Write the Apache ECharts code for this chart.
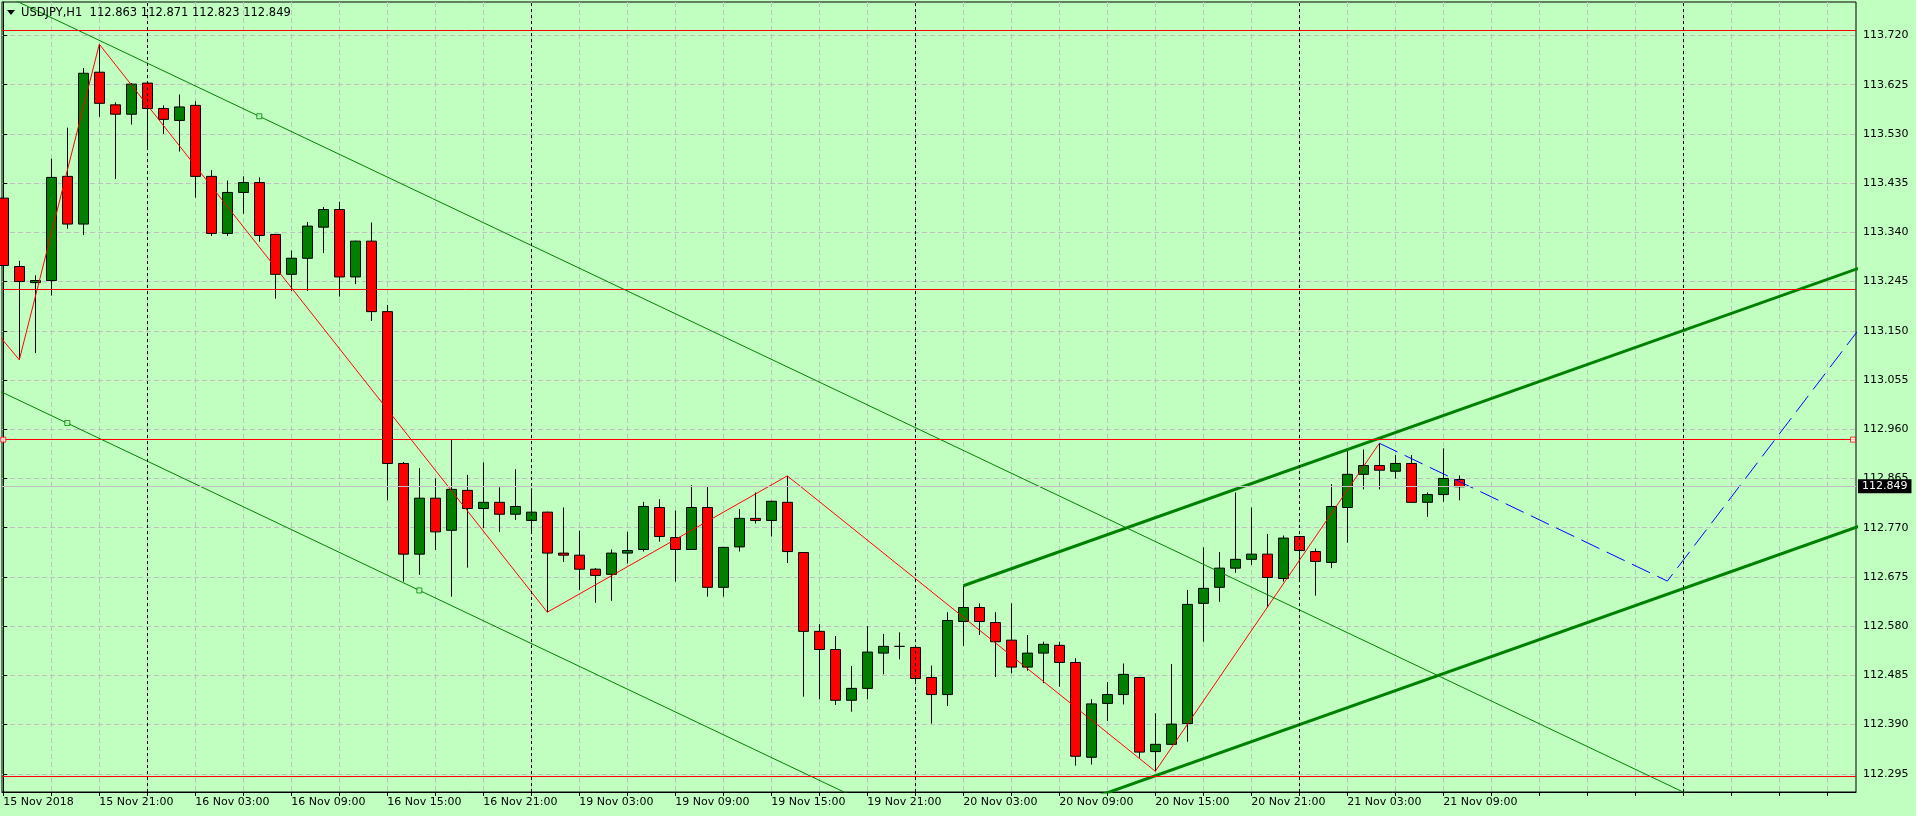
<!DOCTYPE html>
<html>
<head>
<meta charset="utf-8">
<title>USDJPY,H1</title>
<script src="https://cdn.jsdelivr.net/npm/echarts@6/dist/echarts.min.js"></script>
<style>
  html, body { margin: 0; padding: 0; background: #C1FFC1; }
  #chart { width: 1916px; height: 816px; }
</style>
</head>
<body>
<div id="chart"></div>
<script>
// USDJPY H1, bars 15 Nov 15:00 .. 21 Nov 10:00 (index = bar number)
const symbol = 'USDJPY,H1';
const open = [
  113.406, 113.274, 113.243, 113.247, 113.448, 113.356, 113.649, 113.586, 113.568, 113.628,
  113.579, 113.556, 113.585, 113.448, 113.338, 113.417, 113.436, 113.336, 113.259, 113.290,
  113.350, 113.384, 113.254, 113.323, 113.187, 112.894, 112.719, 112.827, 112.765, 112.842,
  112.807, 112.819, 112.796, 112.784, 112.800, 112.721, 112.717, 112.690, 112.680, 112.721,
  112.728, 112.809, 112.751, 112.728, 112.809, 112.655, 112.733, 112.788, 112.784, 112.819,
  112.722, 112.570, 112.535, 112.437, 112.460, 112.528, 112.541, 112.539, 112.481, 112.448,
  112.589, 112.616, 112.587, 112.553, 112.501, 112.528, 112.543, 112.510, 112.327, 112.431,
  112.448, 112.481, 112.338, 112.352, 112.392, 112.624, 112.655, 112.692, 112.709, 112.719,
  112.672, 112.753, 112.724, 112.703, 112.809, 112.873, 112.890, 112.879, 112.894, 112.819,
  112.834, 112.863
];
const high = [
  113.435, 113.285, 113.257, 113.482, 113.542, 113.657, 113.703, 113.591, 113.628, 113.630,
  113.585, 113.606, 113.593, 113.460, 113.440, 113.448, 113.446, 113.337, 113.305, 113.360,
  113.389, 113.399, 113.324, 113.359, 113.200, 112.897, 112.885, 112.865, 112.941, 112.872,
  112.896, 112.848, 112.883, 112.846, 112.801, 112.809, 112.764, 112.692, 112.728, 112.762,
  112.820, 112.825, 112.803, 112.852, 112.849, 112.733, 112.806, 112.838, 112.822, 112.870,
  112.723, 112.584, 112.561, 112.503, 112.580, 112.565, 112.568, 112.540, 112.504, 112.607,
  112.658, 112.624, 112.607, 112.624, 112.563, 112.550, 112.550, 112.518, 112.439, 112.472,
  112.508, 112.482, 112.412, 112.507, 112.650, 112.732, 112.723, 112.838, 112.809, 112.758,
  112.755, 112.754, 112.730, 112.854, 112.919, 112.921, 112.933, 112.910, 112.910, 112.838,
  112.923, 112.871
];
const low = [
  113.248, 113.094, 113.107, 113.218, 113.347, 113.335, 113.563, 113.443, 113.548, 113.501,
  113.530, 113.496, 113.407, 113.333, 113.333, 113.376, 113.322, 113.212, 113.227, 113.227,
  113.300, 113.216, 113.240, 113.169, 112.823, 112.666, 112.679, 112.727, 112.637, 112.693,
  112.769, 112.762, 112.785, 112.759, 112.607, 112.704, 112.650, 112.625, 112.629, 112.701,
  112.724, 112.743, 112.666, 112.727, 112.637, 112.637, 112.724, 112.778, 112.753, 112.702,
  112.444, 112.439, 112.428, 112.415, 112.439, 112.487, 112.516, 112.471, 112.392, 112.426,
  112.542, 112.563, 112.482, 112.489, 112.494, 112.470, 112.463, 112.311, 112.313, 112.397,
  112.429, 112.326, 112.300, 112.351, 112.357, 112.550, 112.627, 112.683, 112.698, 112.616,
  112.666, 112.668, 112.639, 112.692, 112.741, 112.844, 112.844, 112.865, 112.818, 112.791,
  112.820, 112.823
];
const close = [
  113.276, 113.245, 113.247, 113.446, 113.356, 113.647, 113.589, 113.568, 113.626, 113.579,
  113.558, 113.582, 113.448, 113.338, 113.417, 113.436, 113.334, 113.259, 113.290, 113.352,
  113.384, 113.254, 113.323, 113.187, 112.894, 112.719, 112.827, 112.762, 112.844, 112.807,
  112.819, 112.796, 112.811, 112.800, 112.721, 112.717, 112.690, 112.678, 112.721, 112.726,
  112.811, 112.753, 112.728, 112.809, 112.655, 112.732, 112.788, 112.784, 112.821, 112.724,
  112.570, 112.535, 112.437, 112.460, 112.530, 112.541, 112.541, 112.479, 112.448, 112.591,
  112.616, 112.589, 112.550, 112.501, 112.528, 112.545, 112.510, 112.329, 112.430, 112.448,
  112.487, 112.337, 112.352, 112.391, 112.622, 112.653, 112.692, 112.709, 112.719, 112.674,
  112.750, 112.726, 112.705, 112.811, 112.873, 112.890, 112.881, 112.894, 112.819, 112.834,
  112.865, 112.849
];

// time axis: a label every 6 bars, a grid line every 3 bars
const timeLabels = [
  '15 Nov 2018', '15 Nov 21:00', '16 Nov 03:00', '16 Nov 09:00', '16 Nov 15:00', '16 Nov 21:00',
  '19 Nov 03:00', '19 Nov 09:00', '19 Nov 15:00', '19 Nov 21:00', '20 Nov 03:00', '20 Nov 09:00',
  '20 Nov 15:00', '20 Nov 21:00', '21 Nov 03:00', '21 Nov 09:00'
];
const labelBars = [0, 6, 12, 18, 24, 30, 36, 42, 48, 54, 60, 66, 72, 78, 84, 90];
const gridBars = [0, 3, 6, 9, 12, 15, 18, 21, 24, 27, 30, 33, 36, 39, 42, 45, 48, 51, 54, 57,
  60, 63, 66, 69, 72, 75, 78, 81, 84, 87, 90, 93, 96, 99, 102, 105, 108, 111, 114];
const daySeparators = [9, 33, 57, 81, 105];

const priceTicks = [112.295, 112.390, 112.485, 112.580, 112.675, 112.770, 112.865, 112.960,
  113.055, 113.150, 113.245, 113.340, 113.435, 113.530, 113.625, 113.720];

// drawn objects
const levels = [113.727, 113.226, 112.940, 112.291];
const bid = 112.849;
const zigzag = [[-1, 113.168], [1, 113.094], [6, 113.703], [34, 112.607], [49, 112.870], [72, 112.300], [86, 112.933]];
const projection = [[86, 112.933], [104, 112.667], [116, 113.154]];
const downChannelTop = [[-1, 113.813], [120, 112.040]];
const downChannelBottom = [[-1, 113.045], [70, 112.004]];
const upChannelTop = [[60, 112.658], [120, 113.315]];
const upChannelBottom = [[60, 112.160], [120, 112.817]];
const channelPoints = [[16, 113.564], [4, 112.972], [26, 112.649]];
const levelPoints = [[0, 112.940], [115.6, 112.940]];

const bg = '#C1FFC1';
const font = 'DejaVu Sans';

const candles = open.map((o, i) => [i, o, close[i], low[i], high[i]]);
const last = open.length - 1;

var chartDom = document.getElementById('chart');
var chart = echarts.init(chartDom, null, { renderer: 'canvas' });

function trendLine(data, color, width, type) {
    return {
        type: 'line',
        data: data,
        showSymbol: false,
        symbol: 'none',
        clip: true,
        silent: true,
        z: 4,
        lineStyle: { color: color, width: width, type: type || 'solid' }
    };
}

var option = {
    backgroundColor: bg,
    animation: false,
    title: {
        text: symbol + '  ' + [open[last], high[last], low[last], close[last]].map(v => v.toFixed(3)).join(' '),
        left: 21,
        top: 7,
        padding: 0,
        textStyle: {
            fontFamily: font,
            fontSize: 11.5,
            fontWeight: 'normal',
            color: '#000'
        }
    },
    // small menu triangle before the symbol name
    graphic: [{
        type: 'polygon',
        silent: true,
        shape: { points: [[7, 10], [15, 10], [11, 15]] },
        style: { fill: '#000' }
    }],
    grid: {
        left: 2,
        top: 2,
        right: 60,
        bottom: 24,
        show: true,
        borderColor: '#000',
        borderWidth: 1,
        backgroundColor: 'transparent'
    },
    xAxis: {
        type: 'value',
        min: -0.08125,
        max: 115.79,
        axisLine: { show: true, onZero: false, lineStyle: { color: '#000', width: 1 } },
        axisTick: { show: true, customValues: gridBars, length: 4, lineStyle: { color: '#000' } },
        axisLabel: {
            customValues: labelBars,
            formatter: v => timeLabels[Math.round(v / 6)] || '',
            align: 'left',
            margin: 5,
            color: '#000',
            fontFamily: font,
            fontSize: 11
        },
        splitLine: { show: true, lineStyle: { color: '#c0c0c0', width: 1, type: [5, 3] } }
    },
    yAxis: {
        type: 'value',
        position: 'right',
        min: 112.2600,
        max: 113.7845,
        scale: true,
        axisLine: { show: true, lineStyle: { color: '#000', width: 1 } },
        axisTick: { show: true, customValues: priceTicks, length: 4, lineStyle: { color: '#000' } },
        axisLabel: {
            customValues: priceTicks,
            formatter: v => v.toFixed(3),
            margin: 7,
            color: '#000',
            fontFamily: font,
            fontSize: 11
        },
        splitLine: { show: true, lineStyle: { color: '#c0c0c0', width: 1, type: [5, 3] } }
    },
    series: [
        {
            type: 'candlestick',
            data: candles,
            barWidth: 10,
            clip: true,
            silent: true,
            z: 3,
            itemStyle: {
                color: '#008000',
                color0: '#FF0000',
                borderColor: '#000',
                borderColor0: '#000',
                borderColorDoji: '#000',
                borderWidth: 1
            },
            markLine: {
                silent: true,
                symbol: ['none', 'none'],
                animation: false,
                label: { show: false },
                data: [
                    ...daySeparators.map(v => ({ xAxis: v, lineStyle: { color: '#000', width: 1, type: [3, 3] } })),
                    { yAxis: bid, lineStyle: { color: '#c0c0c0', width: 1, type: 'solid' },
                      label: { show: true, position: 'end', distance: 2, formatter: bid.toFixed(3),
                               color: '#fff', backgroundColor: '#000', padding: [2, 4, 1, 4],
                               fontFamily: font, fontSize: 11 } },
                    ...levels.map(v => ({ yAxis: v, lineStyle: { color: '#FF0000', width: 1, type: 'solid' } }))
                ]
            }
        },
        trendLine(downChannelTop, '#008000', 1),
        trendLine(downChannelBottom, '#008000', 1),
        trendLine(upChannelTop, '#008000', 3),
        trendLine(upChannelBottom, '#008000', 3),
        trendLine(zigzag, '#FF0000', 1),
        trendLine(projection, '#0000FF', 1, [20, 8]),
        {
            type: 'scatter',
            data: channelPoints,
            symbol: 'rect',
            symbolSize: 5,
            silent: true,
            z: 5,
            itemStyle: { color: bg, borderColor: '#008000', borderWidth: 1 }
        },
        {
            type: 'scatter',
            data: levelPoints,
            symbol: 'rect',
            symbolSize: 5,
            silent: true,
            z: 5,
            itemStyle: { color: '#fff', borderColor: '#FF0000', borderWidth: 1 }
        }
    ]
};

option && chart.setOption(option);
</script>
</body>
</html>
